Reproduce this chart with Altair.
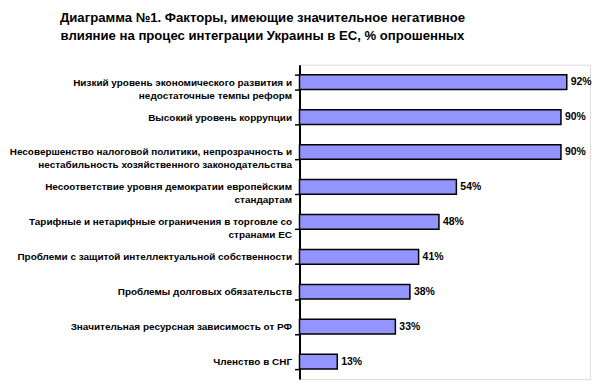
import altair as alt
import pandas as pd

categories = [
    "Низкий уровень экономического развития и|недостаточные темпы  реформ",
    "Высокий уровень коррупции",
    "Несовершенство налоговой политики, непрозрачность и|нестабильность хозяйственного законодательства",
    "Несоответствие уровня демократии европейским|стандартам",
    "Тарифные и нетарифные ограничения в торговле со|странами ЕС",
    "Проблеми с защитой интеллектуальной собственности",
    "Проблемы долговых обязательств",
    "Значительная ресурсная зависимость от  РФ",
    "Членство в СНГ",
]
values = [92, 90, 90, 54, 48, 41, 38, 33, 13]

title_lines = [
    "Диаграмма №1. Факторы, имеющие значительное негативное",
    "влияние на процес интеграции Украины в ЕС, % опрошенных",
]

df = pd.DataFrame({"cat": categories, "val": values})
df["lbl"] = [f"{v}%" for v in values]

FONT = "Liberation Sans"

y_enc = alt.Y(
    "cat:N",
    sort=categories,
    scale=alt.Scale(paddingInner=0.58, paddingOuter=0.29),
    axis=alt.Axis(
        title=None,
        labelExpr="split(datum.label, '|')",
        labelFont=FONT,
        labelFontSize=10,
        labelFontWeight="bold",
        labelColor="#000000",
        labelLineHeight=13,
        labelLimit=400,
        labelPadding=3,
        tickBand="extent",
        tickSize=5,
        tickWidth=1.5,
        tickColor="#000000",
        domainColor="#000000",
        domainWidth=2,
    ),
)
x_enc = alt.X("val:Q", scale=alt.Scale(domain=[0, 100], nice=False), axis=None)

base = alt.Chart(df)

bars = base.mark_bar(
    color="#9494FF", stroke="#000000", strokeWidth=1.5
).encode(y=y_enc, x=x_enc)

texts = base.mark_text(
    align="left", baseline="middle", dx=4, font=FONT, fontSize=10.5,
    fontWeight="bold", color="#000000"
).encode(y=alt.Y("cat:N", sort=categories), x=x_enc, text="lbl:N")

chart = (
    alt.layer(bars, texts)
    .properties(
        width=292,
        height=316,
        padding={"left": 0, "top": 1, "right": 0, "bottom": 2},
        title=alt.Title(
            text=title_lines,
            font=FONT,
            fontSize=13.2,
            fontWeight="bold",
            color="#000000",
            anchor="middle",
            frame="bounds",
            dx=-38,
            lineHeight=18,
            offset=17,
        ),
    )
    .configure_view(stroke=None)
    .configure(background="white")
)

chart.save("out.html", embed_options={"renderer": "svg", "actions": False})
